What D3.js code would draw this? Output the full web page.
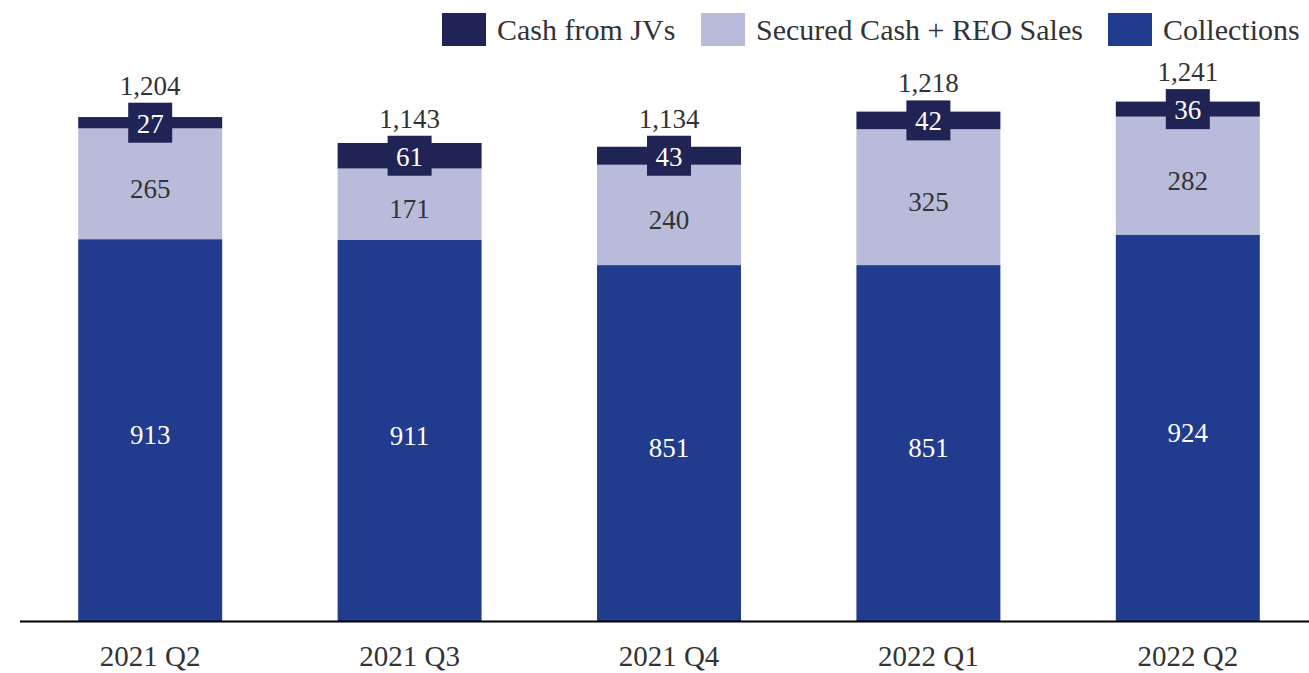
<!DOCTYPE html>
<html>
<head>
	<meta charset="utf-8">
	<script src="https://d3js.org/d3.v7.min.js"></script>
	<style>
		* { margin:0; padding:0; }
		body { background:#fff; font-family:"Liberation Serif", serif; }
		svg text { fill:#333; }
	</style>
</head>
<body>
	<div id="chart"></div>
	<script>
		// data
		const quarters = ["2021 Q2", "2021 Q3", "2021 Q4", "2022 Q1", "2022 Q2"];
		const collections = [913, 911, 851, 851, 924];
		const securedCash = [265, 171, 240, 325, 282];
		const cashJVs = [27, 61, 43, 42, 36];
		const totals = [1204, 1143, 1134, 1218, 1241];

		const seriesNames = ["Collections", "Secured Cash + REO Sales", "Cash from JVs"];
		const legendOrder = ["Cash from JVs", "Secured Cash + REO Sales", "Collections"];
		const colors = {"Collections":"#213b8e", "Secured Cash + REO Sales":"#b8bcda", "Cash from JVs":"#1f2455"};

		const width = 1309, height = 673;
		const baseline = 621;

		const rows = quarters.map((q, i) => ({
			quarter:q,
			"Collections":collections[i],
			"Secured Cash + REO Sales":securedCash[i],
			"Cash from JVs":cashJVs[i],
			total:totals[i]
		}));

		const svg = d3.select("#chart").append("svg")
			.attr("width", width).attr("height", height);

		const xScale = d3.scaleBand().domain(quarters)
			.range([20.5, 1317.5]).paddingInner(0.445).paddingOuter(0.2225);
		const yScale = d3.scaleLinear().domain([0, 1241]).range([baseline, 102]);

		const stack = d3.stack().keys(seriesNames);
		const layers = stack(rows);

		const g = svg.append("g");
		layers.forEach(layer => {
			g.selectAll(null)
				.data(layer)
				.enter()
				.append("rect")
				.attr("x", d => xScale(d.data.quarter))
				.attr("y", d => yScale(d[1]))
				.attr("width", xScale.bandwidth())
				.attr("height", d => yScale(d[0]) - yScale(d[1]))
				.attr("fill", colors[layer.key]);
		});

		// segment labels, the JV value sits in a box and the total goes above that box
		const fmt = d3.format(",");
		layers.forEach(layer => {
			layer.forEach((d, i) => {
				const cx = xScale(d.data.quarter) + xScale.bandwidth()/2;
				const cy = (yScale(d[0]) + yScale(d[1]))/2;
				const v = d.data[layer.key];
				if(layer.key == "Cash from JVs"){
					g.append("rect")
						.attr("x", cx - 22).attr("y", cy - 20)
						.attr("width", 44).attr("height", 40)
						.attr("fill", colors[layer.key]);
					g.append("text").text(v)
						.attr("x", cx).attr("y", cy + 10)
						.attr("text-anchor", "middle")
						.style("font-size", "27px")
						.style("fill", "#fff");
					g.append("text").text(fmt(d.data.total))
						.attr("x", cx).attr("y", cy - 28)
						.attr("text-anchor", "middle")
						.style("font-size", "27px");
				} else {
					g.append("text").text(v)
						.attr("x", cx).attr("y", cy + 14)
						.attr("text-anchor", "middle")
						.style("font-size", "27px")
						.style("fill", layer.key == "Collections" ? "#fff" : "#333");
				}
			});
		});

		// x axis
		const xAxis = d3.axisBottom(xScale).tickSize(0).tickPadding(24);
		const axisG = svg.append("g")
			.attr("transform", "translate(0," + baseline + ")")
			.call(xAxis);
		axisG.select(".domain").remove();
		axisG.append("line")
			.attr("x1", 20).attr("x2", width)
			.attr("y1", 0.5).attr("y2", 0.5)
			.attr("stroke", "#000").attr("stroke-width", 2);
		axisG.selectAll(".tick text")
			.style("font-family", "Liberation Serif, serif")
			.style("font-size", "29px")
			.style("fill", "#333");

		// legend
		const legendX = [442, 701, 1108];
		const legend = svg.append("g");
		legendOrder.forEach((name, i) => {
			legend.append("rect")
				.attr("x", legendX[i]).attr("y", 13)
				.attr("width", 44).attr("height", 33)
				.attr("fill", colors[name]);
			legend.append("text").text(name)
				.attr("x", legendX[i] + 55).attr("y", 40)
				.style("font-size", "30px");
		});
	</script>
</body>
</html>
